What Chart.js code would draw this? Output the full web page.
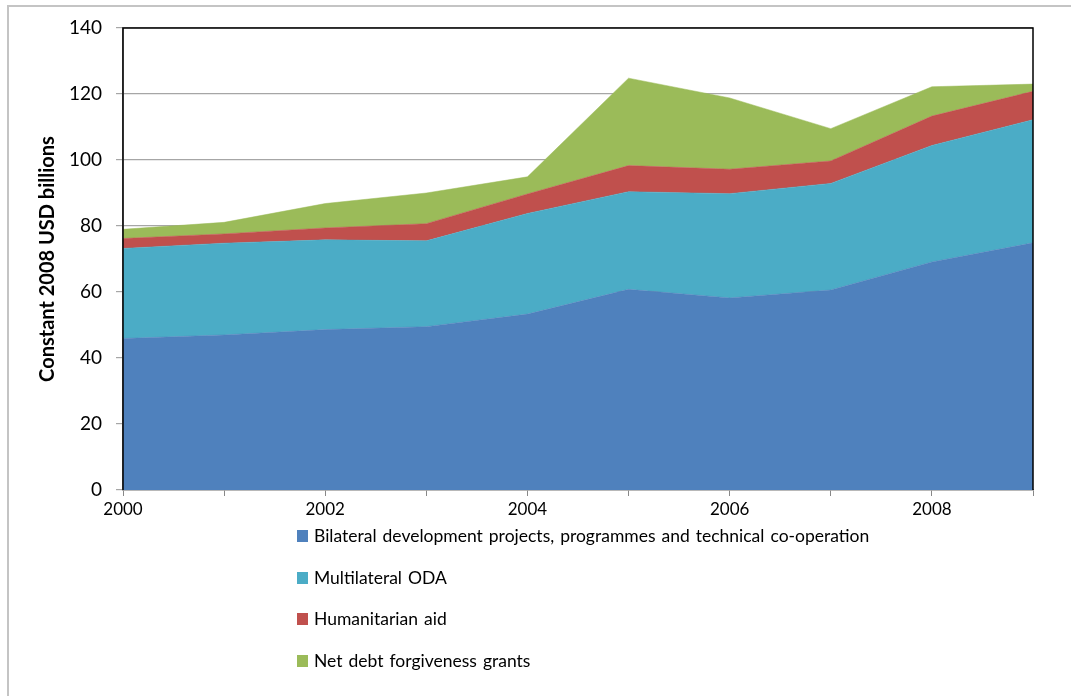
<!DOCTYPE html>
<html>
<head>
<meta charset="utf-8">
<script src="https://cdn.jsdelivr.net/npm/chart.js@4"></script>
<style>
  html, body { margin: 0; padding: 0; background: #fff; overflow: hidden; }
  #wrap { position: relative; width: 1071px; height: 696px; }
  #frame { position: absolute; left: 7px; top: 5px; width: 2000px; height: 2000px;
           border-left: 2px solid #c4c4c4; border-top: 2px solid #c4c4c4; }
  canvas { position: absolute; left: 0; top: 0; }
  #legend { position: absolute; left: 297px; top: 0; font-family: Lato, "Open Sans", sans-serif;
            font-size: 17.5px; word-spacing: 1.5px; color: #000; }
  .item { position: absolute; left: 0; white-space: nowrap; height: 20px; line-height: 20px; }
  .box { position: absolute; left: 0; top: 4px; width: 11px; height: 12px; }
  .txt { position: absolute; left: 17px; top: 0; }
</style>
</head>
<body>
<div id="wrap">
  <div id="frame"></div>
  <canvas id="chart" width="1071" height="696"></canvas>
  <div id="legend"></div>
</div>
<script>
// Official development assistance by type, constant 2008 USD billions
const years = ["2000", "2001", "2002", "2003", "2004", "2005", "2006", "2007", "2008", "2009"];
const bilateral = [45.9, 47.0, 48.6, 49.5, 53.3, 60.8, 58.2, 60.6, 69.1, 74.9];
const multilateral = [27.3, 27.8, 27.2, 26.0, 30.5, 29.6, 31.6, 32.3, 35.3, 37.3];
const humanitarian = [3.0, 2.8, 3.6, 5.2, 5.9, 7.9, 7.4, 6.8, 8.9, 8.6];
const debtRelief = [2.8, 3.5, 7.4, 9.3, 5.2, 26.5, 21.6, 9.8, 8.9, 2.2];
const yTicks = [0, 20, 40, 60, 80, 100, 120, 140];

const seriesNames = [
  "Bilateral development projects, programmes and technical co-operation",
  "Multilateral ODA",
  "Humanitarian aid",
  "Net debt forgiveness grants",
];
const colors = ["#4F81BD", "#4BACC6", "#C0504D", "#9BBB59"];
const seriesData = [bilateral, multilateral, humanitarian, debtRelief];

// black border on the top/right/left of the plot area
const plotBorder = {
  id: "plotBorder",
  afterDraw(chart) {
    const { ctx, chartArea: a } = chart;
    ctx.save();
    ctx.strokeStyle = "#000";
    ctx.lineWidth = 1.5;
    ctx.beginPath();
    ctx.moveTo(a.left, a.bottom);
    ctx.lineTo(a.left, a.top);
    ctx.lineTo(a.right, a.top);
    ctx.lineTo(a.right, a.bottom);
    ctx.stroke();
    ctx.restore();
  },
};

const ctx = document.getElementById("chart").getContext("2d");
const chart = new Chart(ctx, {
  type: "line",
  data: {
    labels: years,
    datasets: seriesData.map((d, i) => ({
      label: seriesNames[i],
      data: d,
      backgroundColor: colors[i],
      borderColor: colors[i],
      borderWidth: 0.5,
      pointRadius: 0,
      tension: 0,
      fill: i === 0 ? "origin" : "-1",
    })),
  },
  options: {
    responsive: false,
    animation: false,
    devicePixelRatio: 1,
    layout: { padding: { left: 0, top: 28, right: 38, bottom: 176 } },
    plugins: {
      legend: { display: false },
      tooltip: { enabled: false },
    },
    scales: {
      x: {
        offset: false,
        grid: { display: true, drawOnChartArea: false, drawTicks: true, tickLength: 6, color: "#888" },
        border: { color: "#888", width: 1.5 },
        ticks: {
          autoSkip: false,
          maxRotation: 0,
          padding: 3,
          color: "#000",
          font: { family: "Lato", size: 17 },
          callback: (v, i) => (i % 2 === 0 ? years[i] : ""),
        },
        afterFit: (s) => { s.height = 30; },
      },
      y: {
        stacked: true,
        min: 0,
        max: 140,
        afterBuildTicks: (s) => { s.ticks = yTicks.map((v) => ({ value: v })); },
        grid: { color: "#a6a6a6", lineWidth: 1.2, tickLength: 7 },
        border: { color: "#888", width: 1.5 },
        ticks: {
          padding: 14,
          color: "#000",
          font: { family: "Lato", size: 19 },
        },
        title: {
          display: true,
          text: "Constant 2008 USD billions",
          color: "#000",
          font: { family: "Lato", size: 20, weight: "bold" },
          padding: { top: 36, bottom: 0 },
        },
        afterFit: (s) => { s.width = 123; },
      },
    },
  },
  plugins: [plotBorder],
});

// legend, one row per series, built from the chart's datasets
const rowCenters = [536, 578, 619, 661];
const legendDiv = document.getElementById("legend");
chart.data.datasets.forEach((ds, i) => {
  const item = document.createElement("div");
  item.className = "item";
  item.style.top = (rowCenters[i] - 10) + "px";
  item.innerHTML = `<span class="box" style="background:${ds.backgroundColor}"></span><span class="txt">${ds.label}</span>`;
  legendDiv.appendChild(item);
});
</script>
</body>
</html>
